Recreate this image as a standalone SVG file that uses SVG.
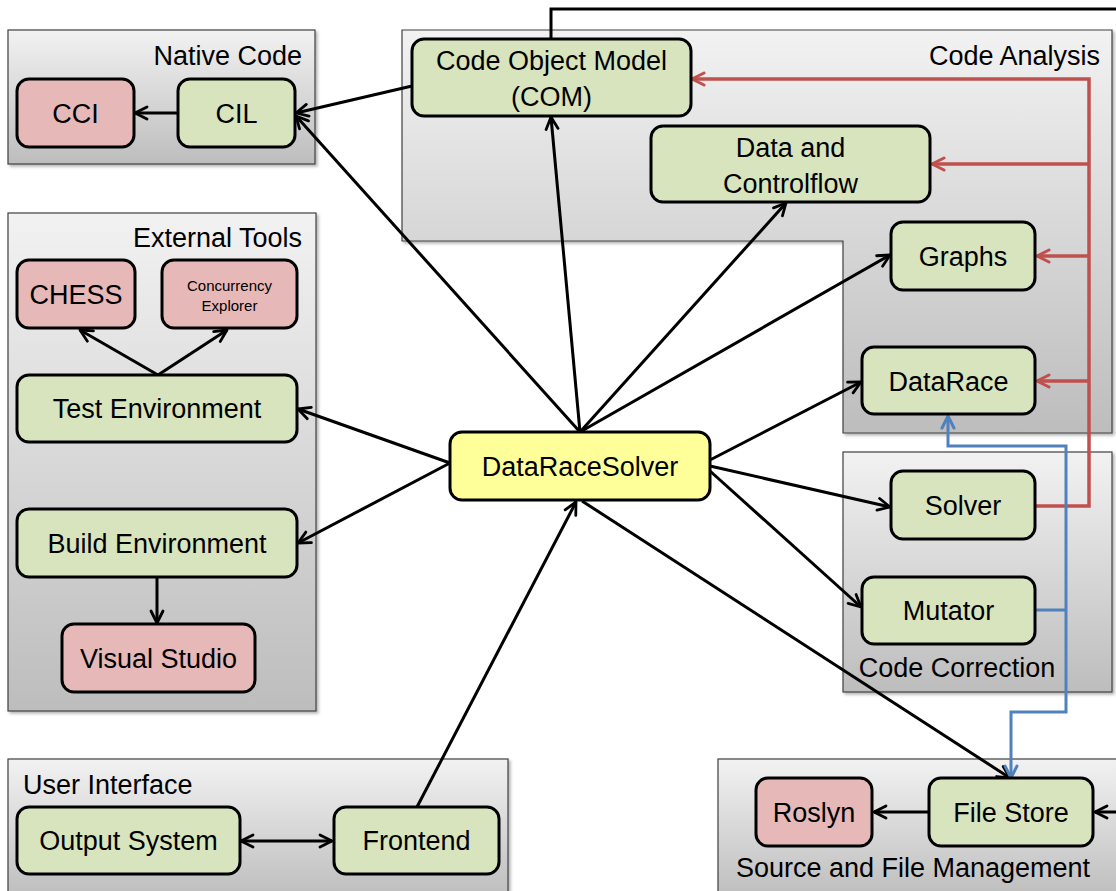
<svg xmlns="http://www.w3.org/2000/svg" width="1116" height="891" viewBox="0 0 1116 891">
<style>
text{font-family:"Liberation Sans",Arial,sans-serif;fill:#000}
.t{font-size:27px;text-anchor:middle}
.ct{font-size:27px}
.cont{fill:url(#cg);stroke:#404040;stroke-width:1.2;filter:url(#sh)}
.n{stroke:#000;stroke-width:3}
.g{fill:#d7e4bd}
.p{fill:#e6b9b8}
.y{fill:#ffff99}
.k{fill:none;stroke:#000;stroke-width:3}
.r{fill:none;stroke:#c0504d;stroke-width:3.5}
.b{fill:none;stroke:#4f81bd;stroke-width:3}
</style>
<defs>
<linearGradient id="cg" x1="0" y1="0" x2="0" y2="1">
<stop offset="0" stop-color="#f2f2f2"/>
<stop offset="1" stop-color="#bdbdbd"/>
</linearGradient>
<filter id="sh" x="-5%" y="-5%" width="110%" height="115%">
<feDropShadow dx="2" dy="2" stdDeviation="1.5" flood-color="#000" flood-opacity="0.3"/>
</filter>
<marker id="ak" viewBox="0 0 16 16" refX="14" refY="8" markerWidth="16" markerHeight="16" markerUnits="userSpaceOnUse" orient="auto-start-reverse"><path d="M2,2 L14,8 L2,14" fill="none" stroke="#000" stroke-width="2.8" stroke-linecap="round" stroke-linejoin="round"/></marker>
<marker id="ar" viewBox="0 0 16 16" refX="14" refY="8" markerWidth="16" markerHeight="16" markerUnits="userSpaceOnUse" orient="auto"><path d="M2,2 L14,8 L2,14" fill="none" stroke="#c0504d" stroke-width="3" stroke-linecap="round" stroke-linejoin="round"/></marker>
<marker id="ab" viewBox="0 0 16 16" refX="14" refY="8" markerWidth="16" markerHeight="16" markerUnits="userSpaceOnUse" orient="auto"><path d="M2,2 L14,8 L2,14" fill="none" stroke="#4f81bd" stroke-width="3" stroke-linecap="round" stroke-linejoin="round"/></marker>
</defs>
<rect width="1116" height="891" fill="#fff"/>

<g id="containers">
<g id="c-native"><rect class="cont" x="8" y="30" width="307" height="134"/><text class="ct" x="302" y="65" text-anchor="end">Native Code</text></g>
<g id="c-external"><rect class="cont" x="8" y="213" width="308" height="498"/><text class="ct" x="302" y="247" text-anchor="end">External Tools</text></g>
<g id="c-ui"><rect class="cont" x="8" y="759" width="500" height="140"/><text class="ct" x="23" y="794">User Interface</text></g>
<g id="c-analysis"><path class="cont" d="M402,30 H1112 V433 H843 V241 H402 Z"/><text class="ct" x="1100" y="65" text-anchor="end">Code Analysis</text></g>
<g id="c-correction"><rect class="cont" x="843" y="452" width="269" height="240"/><text class="ct" x="957" y="677" text-anchor="middle">Code Correction</text></g>
<g id="c-source"><rect class="cont" x="718" y="759" width="406" height="140"/><text class="ct" x="913" y="877" text-anchor="middle">Source and File Management</text></g>
</g>

<g id="connectors">
<path class="k" d="M178,113 L135,113" marker-end="url(#ak)"/>
<path class="k" d="M412,86 L296,113" marker-end="url(#ak)"/>
<path class="k" d="M580,432 L296,116" marker-end="url(#ak)"/>
<path class="k" d="M580,432 L551,117" marker-end="url(#ak)"/>
<path class="k" d="M580,432 L786,203" marker-end="url(#ak)"/>
<path class="k" d="M580,432 L890,255" marker-end="url(#ak)"/>
<path class="k" d="M710,460 L861,382" marker-end="url(#ak)"/>
<path class="k" d="M710,466 L890,507" marker-end="url(#ak)"/>
<path class="k" d="M710,471 L861,607" marker-end="url(#ak)"/>
<path class="k" d="M582,501 L1010,778" marker-end="url(#ak)"/>
<path class="k" d="M417,807 L576,502" marker-end="url(#ak)"/>
<path class="k" d="M450,463 L298,409" marker-end="url(#ak)"/>
<path class="k" d="M450,463 L298,543" marker-end="url(#ak)"/>
<path class="k" d="M157,577 L157,623" marker-end="url(#ak)"/>
<path class="k" d="M158,375 L80,330" marker-end="url(#ak)"/>
<path class="k" d="M158,375 L227,330" marker-end="url(#ak)"/>
<path class="k" d="M241,841 L332,841" marker-start="url(#ak)" marker-end="url(#ak)"/>
<path class="k" d="M929,812 L874,812" marker-end="url(#ak)"/>
<path class="k" d="M551,39 L551,9 L1116,9"/>
<path class="k" d="M1116,812 L1095,812" marker-end="url(#ak)"/>
<path class="r" d="M1036,506 L1089,506 L1089,79 L692,79" marker-end="url(#ar)"/>
<path class="r" d="M1089,164 L932,164" marker-end="url(#ar)"/>
<path class="r" d="M1089,256 L1037,256" marker-end="url(#ar)"/>
<path class="r" d="M1089,381 L1037,381" marker-end="url(#ar)"/>
<path class="b" d="M1036,610 L1066,610"/>
<path class="b" d="M1066,610 L1066,446 L948,446 L948,416" marker-end="url(#ab)"/>
<path class="b" d="M1066,610 L1066,712 L1011,712 L1011,778" marker-end="url(#ab)"/>
</g>

<g id="n-cci"><rect class="n p" x="17" y="79" width="117" height="68" rx="12"/><text class="t" x="75.5" y="123">CCI</text></g>
<g id="n-cil"><rect class="n g" x="178" y="79" width="117" height="68" rx="12"/><text class="t" x="236.5" y="123">CIL</text></g>
<g id="n-com"><rect class="n g" x="412" y="39" width="279" height="77" rx="12"/><text class="t" x="551.5" y="70">Code Object Model</text><text class="t" x="551.5" y="106">(COM)</text></g>
<g id="n-dcf"><rect class="n g" x="651" y="126" width="279" height="76" rx="12"/><text class="t" x="790.5" y="157">Data and</text><text class="t" x="790.5" y="193">Controlflow</text></g>
<g id="n-graphs"><rect class="n g" x="891" y="222" width="144" height="68" rx="12"/><text class="t" x="963" y="266">Graphs</text></g>
<g id="n-datarace"><rect class="n g" x="862" y="347" width="173" height="67" rx="12"/><text class="t" x="948.5" y="391">DataRace</text></g>
<g id="n-chess"><rect class="n p" x="17" y="260" width="118" height="68" rx="12"/><text class="t" x="76" y="304">CHESS</text></g>
<g id="n-concexp"><rect class="n p" x="162" y="260" width="135" height="68" rx="12"/><text x="229.5" y="291" style="font-size:15px;text-anchor:middle">Concurrency</text><text x="229.5" y="311" style="font-size:15px;text-anchor:middle">Explorer</text></g>
<g id="n-testenv"><rect class="n g" x="17" y="375" width="280" height="67" rx="12"/><text class="t" x="157" y="418">Test Environment</text></g>
<g id="n-buildenv"><rect class="n g" x="17" y="509" width="280" height="68" rx="12"/><text class="t" x="157" y="553">Build Environment</text></g>
<g id="n-vs"><rect class="n p" x="62" y="624" width="193" height="68" rx="12"/><text class="t" x="158.5" y="668">Visual Studio</text></g>
<g id="n-drs"><rect class="n y" x="450" y="432" width="260" height="68" rx="12"/><text class="t" x="580" y="476">DataRaceSolver</text></g>
<g id="n-solver"><rect class="n g" x="891" y="471" width="144" height="68" rx="12"/><text class="t" x="963" y="515">Solver</text></g>
<g id="n-mutator"><rect class="n g" x="862" y="577" width="173" height="67" rx="12"/><text class="t" x="948.5" y="620">Mutator</text></g>
<g id="n-output"><rect class="n g" x="17" y="807" width="223" height="67" rx="12"/><text class="t" x="128.5" y="850">Output System</text></g>
<g id="n-frontend"><rect class="n g" x="334" y="807" width="165" height="67" rx="12"/><text class="t" x="416.5" y="850">Frontend</text></g>
<g id="n-roslyn"><rect class="n p" x="756" y="778" width="116" height="68" rx="12"/><text class="t" x="814" y="822">Roslyn</text></g>
<g id="n-filestore"><rect class="n g" x="929" y="778" width="164" height="68" rx="12"/><text class="t" x="1011" y="822">File Store</text></g>
</svg>
